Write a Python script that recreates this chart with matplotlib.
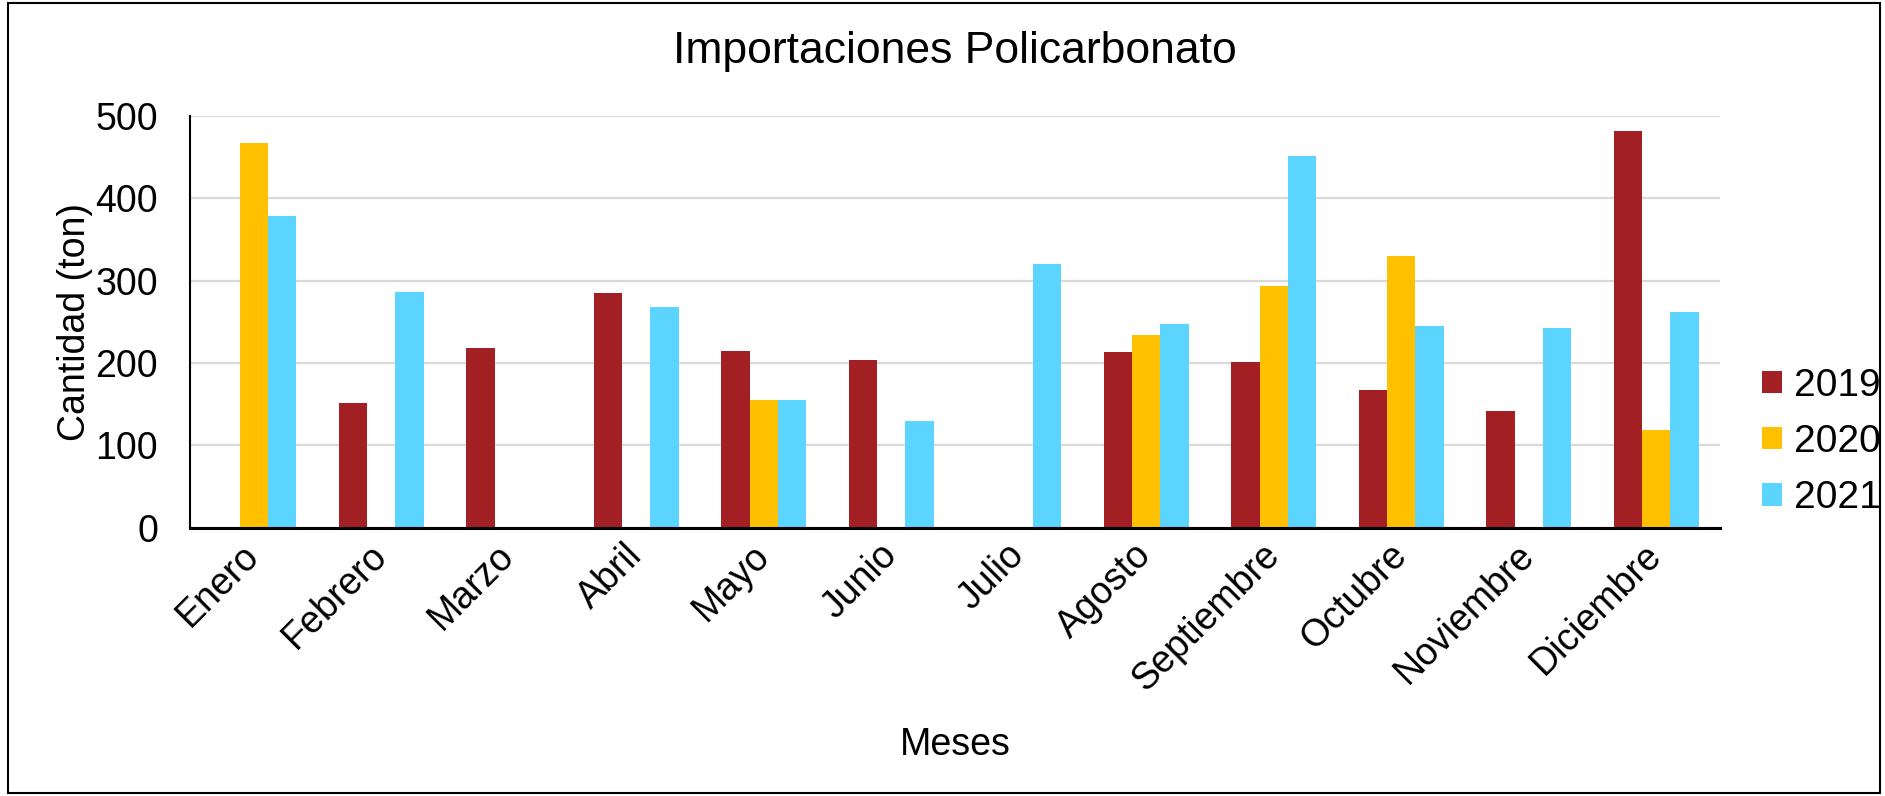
import numpy as np
import matplotlib.pyplot as plt
from matplotlib.patches import Rectangle

plt.rcParams['font.family'] = ['Liberation Sans', 'DejaVu Sans']

# Monthly polycarbonate imports (ton); 0 = no data that month
meses = ['Enero', 'Febrero', 'Marzo', 'Abril', 'Mayo', 'Junio', 'Julio',
         'Agosto', 'Septiembre', 'Octubre', 'Noviembre', 'Diciembre']
v2019 = [0, 152, 218, 285, 214, 204, 0, 213, 201, 167, 142, 482]
v2020 = [467, 0, 0, 0, 155, 0, 0, 234, 294, 330, 0, 119]
v2021 = [379, 286, 0, 268, 155, 129, 320, 247, 451, 245, 243, 262]
years = ['2019', '2020', '2021']
colors = ['#A22023', '#FFC000', '#5BD4FF']

W, H = 1885, 796
fig = plt.figure(figsize=(W / 100, H / 100), dpi=100)
ax = fig.add_axes([190 / W, 1 - 527.7 / H, 1530 / W, 411.7 / H])

x = np.arange(len(meses))
bw = 0.222
for i, (vals, lab, col) in enumerate(zip([v2019, v2020, v2021], years, colors)):
    ax.bar(x + (i - 1) * bw, vals, width=bw, color=col, label=lab, zorder=3)

ax.set_xlim(-0.5, len(meses) - 0.5)
ax.set_ylim(0, 500)
ax.set_yticks([0, 100, 200, 300, 400, 500])
ax.yaxis.grid(True, color='#D9D9D9', linewidth=1.6, zorder=0)
ax.set_axisbelow(True)

for s in ['top', 'right']:
    ax.spines[s].set_visible(False)
ax.spines['left'].set_linewidth(1.5)
ax.spines['bottom'].set_linewidth(2.2)
ax.spines['bottom'].set_zorder(4)

ax.tick_params(axis='both', length=0, labelsize=27)
ax.tick_params(axis='y', pad=23)
ax.tick_params(axis='x', pad=16)
ax.set_xticks(x)
ax.set_xticklabels(meses, rotation=45, ha='right', va='center',
                   rotation_mode='anchor')

ax.set_ylabel('Cantidad (ton)', fontsize=27, labelpad=2)
fig.text(955 / W, 1 - 745 / H, 'Meses', fontsize=27, ha='center', va='center')
fig.text(955 / W, 1 - 52 / H, 'Importaciones Policarbonato', fontsize=32,
         ha='center', va='center')

ax.legend(loc='center left', bbox_to_anchor=(1743 / W, 1 - 442 / H),
          bbox_transform=fig.transFigure, frameon=False, fontsize=28,
          handlelength=0.5, handleheight=0.5, handletextpad=0.3,
          labelspacing=0.52, borderpad=0)

fig.patches.append(Rectangle((8 / W, 3 / H), 1872 / W, 790 / H,
                             transform=fig.transFigure, fill=False,
                             edgecolor='black', linewidth=1.5))

fig.savefig('out.png', dpi=100)
